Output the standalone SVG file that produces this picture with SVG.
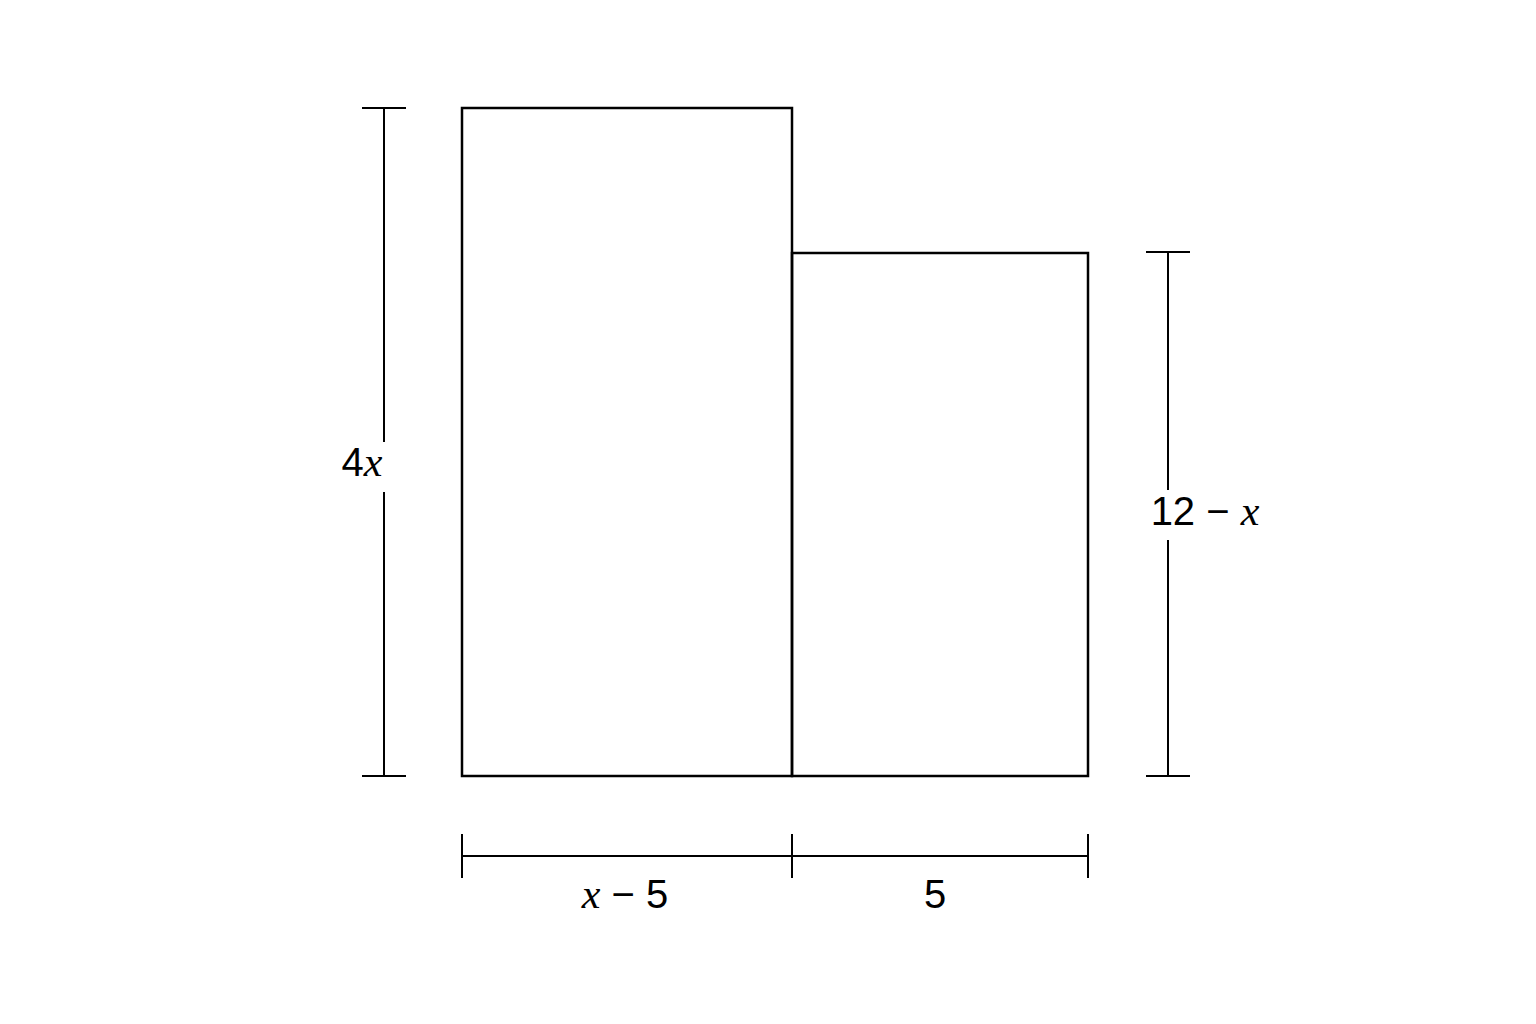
<svg xmlns="http://www.w3.org/2000/svg" width="1536" height="1024" viewBox="0 0 1536 1024">
<style>
.s{fill:none;stroke:#000;stroke-width:2.5}
.d{fill:none;stroke:#000;stroke-width:2}
.t{font-family:"Liberation Sans",Arial,sans-serif;font-size:40px;fill:#000}
.v{font-family:"Liberation Serif","Times New Roman",serif;font-style:italic;font-size:42px}
</style>
<rect width="1536" height="1024" fill="#fff"/>
<g id="left-rect"><rect class="s" x="462" y="108" width="330" height="668"/></g>
<g id="right-rect"><rect class="s" x="792" y="253" width="296" height="523"/></g>
<g id="dimensions">
<path class="d" d="M384 108V442M384 492V776M362 108H406M362 776H406"/>
<path class="d" d="M1168 252V490M1168 540V776M1146 252H1190M1146 776H1190"/>
<path class="d" d="M462 856H1088M462 834V878M792 834V878M1088 834V878"/>
</g>
<g id="labels">
<text class="t" x="362" y="476" text-anchor="middle">4<tspan class="v">x</tspan></text>
<text class="t" x="1205" y="525" text-anchor="middle">12 − <tspan class="v">x</tspan></text>
<text class="t" x="625" y="908" text-anchor="middle"><tspan class="v">x</tspan> − 5</text>
<text class="t" x="935" y="908" text-anchor="middle">5</text>
</g>
</svg>
